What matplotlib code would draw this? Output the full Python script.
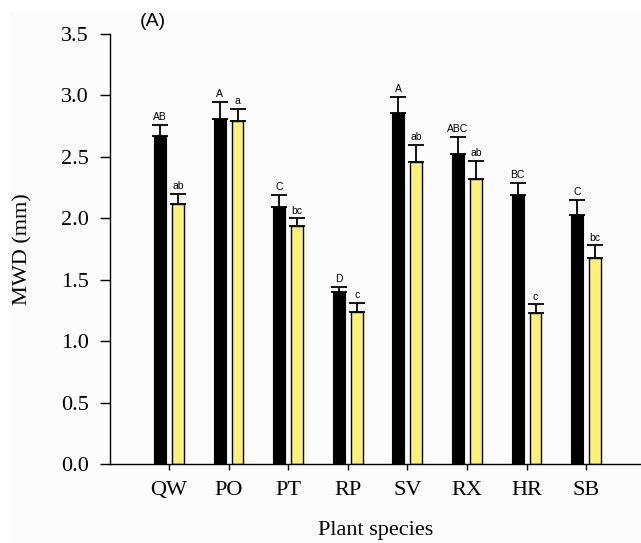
import matplotlib
matplotlib.use("Agg")
import matplotlib.pyplot as plt
import numpy as np
from matplotlib.patches import Rectangle

species = ["QW", "PO", "PT", "RP", "SV", "RX", "HR", "SB"]
black_vals = [2.67, 2.81, 2.09, 1.40, 2.86, 2.52, 2.19, 2.03]
black_err = [0.09, 0.14, 0.10, 0.04, 0.13, 0.14, 0.10, 0.12]
yellow_vals = [2.12, 2.79, 1.94, 1.24, 2.46, 2.32, 1.23, 1.68]
yellow_err = [0.08, 0.10, 0.06, 0.07, 0.14, 0.15, 0.07, 0.10]
black_letters = ["AB", "A", "C", "D", "A", "ABC", "BC", "C"]
yellow_letters = ["ab", "a", "bc", "c", "ab", "ab", "c", "bc"]

fig = plt.figure(figsize=(6.41, 5.43), dpi=100)
fig.patch.set_facecolor("white")
fig.patches.append(Rectangle((10 / 641, 0), 1, 1 - 12 / 543, transform=fig.transFigure,
                             facecolor="#fbfbfb", edgecolor="none", zorder=-10))
ax = fig.add_axes([110 / 641, 1 - 464 / 543, 1 - 110 / 641, (464 - 34) / 543])
ax.set_facecolor("none")

x = np.arange(len(species))
w = 0.2
off = 0.15
ax.bar(x - off, black_vals, w, color="black", edgecolor="black", linewidth=0.8, zorder=2)
ax.bar(x + off, yellow_vals, w, color="#FFF176", edgecolor="black", linewidth=1.0, zorder=2)
ax.errorbar(x - off, black_vals, yerr=[np.zeros(len(x)), black_err], fmt="none",
            ecolor="black", elinewidth=1.3, capsize=6, capthick=1.3, zorder=1)
ax.errorbar(x + off, yellow_vals, yerr=[np.zeros(len(x)), yellow_err], fmt="none",
            ecolor="black", elinewidth=1.3, capsize=6, capthick=1.3, zorder=1)

for i in range(len(x)):
    ax.annotate(black_letters[i], (x[i] - off, black_vals[i] + black_err[i]),
                xytext=(0, 2), textcoords="offset points", ha="center", va="bottom",
                fontsize=7.5, family="Liberation Sans")
    ax.annotate(yellow_letters[i], (x[i] + off, yellow_vals[i] + yellow_err[i]),
                xytext=(0, 2), textcoords="offset points", ha="center", va="bottom",
                fontsize=7.5, family="Liberation Sans")

ax.set_xlim(-0.99, 7.92)
ax.set_ylim(0, 3.5)
ax.set_xticks(x)
ax.set_xticklabels(species)
ax.set_yticks(np.arange(0, 3.51, 0.5))
ax.set_yticklabels([f"{v:.1f}" for v in np.arange(0, 3.51, 0.5)])
for s in ["top", "right"]:
    ax.spines[s].set_visible(False)
for s in ["left", "bottom"]:
    ax.spines[s].set_linewidth(1.0)
ax.tick_params(axis="y", direction="out", length=7, width=1.0, pad=8, labelsize=16)
ax.tick_params(axis="x", direction="out", length=4.5, width=1.0, pad=8, labelsize=16)
for lab in ax.get_xticklabels() + ax.get_yticklabels():
    lab.set_family("Liberation Serif")

ax.set_ylabel("MWD (mm)", fontsize=16, family="Liberation Serif")
ax.set_xlabel("Plant species", fontsize=16, family="Liberation Serif")
ax.yaxis.set_label_coords((23 - 110) / 531, 0.5)
ax.xaxis.set_label_coords(0.5, (464 - 531) / 430)
ax.xaxis.label.set_va("center")
ax.yaxis.label.set_va("center")
fig.text(153 / 641, 1 - 22 / 543, "(A)", fontsize=14, family="Liberation Sans",
         ha="center", va="center")

fig.savefig("out.png", dpi=100)
